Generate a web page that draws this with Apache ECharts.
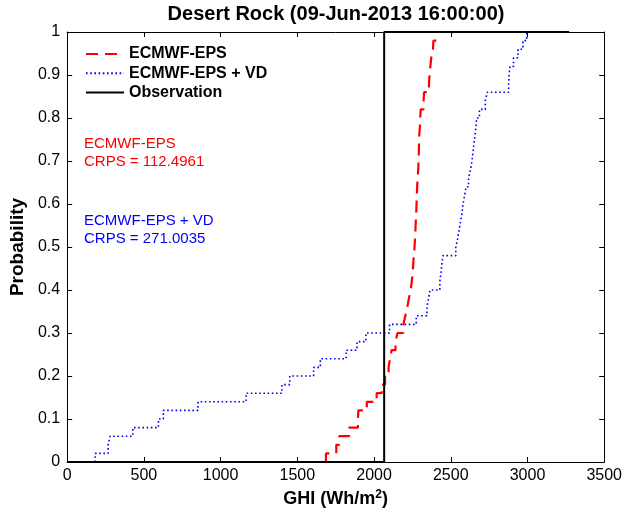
<!DOCTYPE html>
<html><head><meta charset="utf-8">
<script src="https://cdn.jsdelivr.net/npm/echarts@6/dist/echarts.min.js"></script>
<style>html,body{margin:0;padding:0;background:#fff}#c{width:625px;height:513px}</style>
</head><body><div id="c"></div>
<script>
// ---- data ----
const chartTitle = 'Desert Rock (09-Jun-2013 16:00:00)';
const seriesNames = ['ECMWF-EPS', 'ECMWF-EPS + VD', 'Observation'];
const xTickMin = 0, xTickMax = 3500, xTickStep = 500;
const yTickMin = 0, yTickMax = 1, yTickStep = 0.1;

// ECMWF-EPS empirical CDF (GHI value, cumulative probability)
const ensX = [1687,1687,1754,1773,1837,1895,1898,1953,2017,2050,2072,2095,2104,2114,2140,2153,2191,2204,2217,2227,2239,2246,2252,2255,2260,2264,2267,2270,2272,2275,2277,2279,2281,2284,2288,2290,2292,2293,2295,2299,2301,2304,2323,2326,2358,2362,2367,2373,2384,2387,2416];
const ensP = [0,0.02,0.04,0.06,0.08,0.10,0.12,0.14,0.16,0.18,0.20,0.22,0.24,0.26,0.28,0.30,0.32,0.34,0.36,0.38,0.40,0.42,0.44,0.46,0.48,0.50,0.52,0.54,0.56,0.58,0.60,0.62,0.64,0.66,0.68,0.70,0.72,0.74,0.76,0.78,0.80,0.82,0.84,0.86,0.88,0.90,0.92,0.94,0.96,0.98,0.98];

// ECMWF-EPS + VD empirical CDF
const vdX = [183,183,267,280,428,595,627,853,1166,1400,1451,1606,1650,1818,1889,1947,2101,2275,2345,2355,2365,2429,2436,2442,2449,2533,2545,2555,2564,2574,2580,2590,2600,2616,2629,2638,2645,2651,2658,2664,2669,2687,2725,2738,2877,2880,2886,2909,2938,2970,2995];
const vdP = [0,0.02,0.04,0.06,0.08,0.10,0.12,0.14,0.16,0.18,0.20,0.22,0.24,0.26,0.28,0.30,0.32,0.34,0.36,0.38,0.40,0.42,0.44,0.46,0.48,0.50,0.52,0.54,0.56,0.58,0.60,0.62,0.64,0.66,0.68,0.70,0.72,0.74,0.76,0.78,0.80,0.82,0.84,0.86,0.88,0.90,0.92,0.94,0.96,0.98,1.00];

// Observation step CDF
const obsX = [0, 2066, 2066, 3272];
const obsP = [0, 0, 1, 1];

const crpsEns = 'CRPS = 112.4961';
const crpsVd = 'CRPS = 271.0035';

// ---- chart ----
const FONT = 'Liberation Sans, Arial, Helvetica, sans-serif';
const zip = (xs, ys) => xs.map((x, i) => [x, ys[i]]);

const chart = echarts.init(document.getElementById('c'), null, {renderer: 'canvas'});

const axisCommon = {
  axisLine: {show: true, onZero: false, lineStyle: {color: '#000', width: 1}},
  axisTick: {show: true, inside: true, length: 5, lineStyle: {color: '#000', width: 1}},
  splitLine: {show: false}
};

chart.setOption({
  animation: false,
  backgroundColor: '#fff',
  grid: {left: 65, right: 18, top: 32, bottom: 51, containLabel: false},
  graphic: [
    {type: 'text', x: 336, y: 14, style: {text: chartTitle, font: 'bold 20px ' + FONT, fill: '#000', align: 'center', verticalAlign: 'middle'}},
    {type: 'text', x: 84, y: 144, style: {text: seriesNames[0], font: '15px ' + FONT, fill: '#ff0000', align: 'left', verticalAlign: 'middle'}},
    {type: 'text', x: 84, y: 162, style: {text: crpsEns, font: '15px ' + FONT, fill: '#ff0000', align: 'left', verticalAlign: 'middle'}},
    {type: 'text', x: 84, y: 221, style: {text: seriesNames[1], font: '15px ' + FONT, fill: '#0000ff', align: 'left', verticalAlign: 'middle'}},
    {type: 'text', x: 84, y: 239, style: {text: crpsVd, font: '15px ' + FONT, fill: '#0000ff', align: 'left', verticalAlign: 'middle'}}
  ],
  legend: {
    orient: 'vertical', left: 85, top: 46,
    itemWidth: 38, itemHeight: 15, itemGap: 3.3,
    data: seriesNames,
    itemStyle: {opacity: 0},
    textStyle: {fontFamily: FONT, fontWeight: 'bold', fontSize: 16, color: '#000', lineHeight: 15},
    backgroundColor: 'transparent', borderWidth: 0, padding: 0
  },
  xAxis: [
    Object.assign({
      type: 'value', position: 'bottom', min: xTickMin, max: xTickMax, interval: xTickStep,
      name: 'GHI (Wh/m{sup|2})', nameLocation: 'middle', nameGap: 25,
      nameTextStyle: {fontFamily: FONT, fontWeight: 'bold', fontSize: 18, color: '#000',
        rich: {sup: {fontFamily: FONT, fontWeight: 'bold', fontSize: 12, color: '#000', verticalAlign: 'top', padding: [0, 0, 8, 0]}}},
      axisLabel: {fontFamily: FONT, fontSize: 16, color: '#000', margin: 6, formatter: v => String(v)}
    }, axisCommon),
    Object.assign({
      type: 'value', position: 'top', min: xTickMin, max: xTickMax, interval: xTickStep,
      axisLabel: {show: false}
    }, axisCommon)
  ],
  yAxis: [
    Object.assign({
      type: 'value', position: 'left', min: yTickMin, max: yTickMax, interval: yTickStep,
      name: 'Probability', nameLocation: 'middle', nameGap: 38,
      nameTextStyle: {fontFamily: FONT, fontWeight: 'bold', fontSize: 19, color: '#000'},
      axisLabel: {fontFamily: FONT, fontSize: 16, color: '#000', margin: 7, formatter: v => String(v)}
    }, axisCommon),
    Object.assign({
      type: 'value', position: 'right', min: yTickMin, max: yTickMax, interval: yTickStep,
      axisLabel: {show: false}
    }, axisCommon)
  ],
  series: [
    {name: seriesNames[0], type: 'line', step: 'end', data: zip(ensX, ensP), symbol: 'none', clip: false,
     lineStyle: {color: '#ff0000', width: 2.2, type: [12, 7]}, itemStyle: {color: '#ff0000'}, z: 3},
    {name: seriesNames[1], type: 'line', step: 'end', data: zip(vdX, vdP), symbol: 'none', clip: false,
     lineStyle: {color: '#0000ff', width: 1.6, type: [1.6, 2.6]}, itemStyle: {color: '#0000ff'}, z: 3},
    {name: seriesNames[2], type: 'line', data: zip(obsX, obsP), symbol: 'none', clip: false,
     lineStyle: {color: '#000', width: 2}, itemStyle: {color: '#000'}, z: 4}
  ]
});
</script></body></html>
